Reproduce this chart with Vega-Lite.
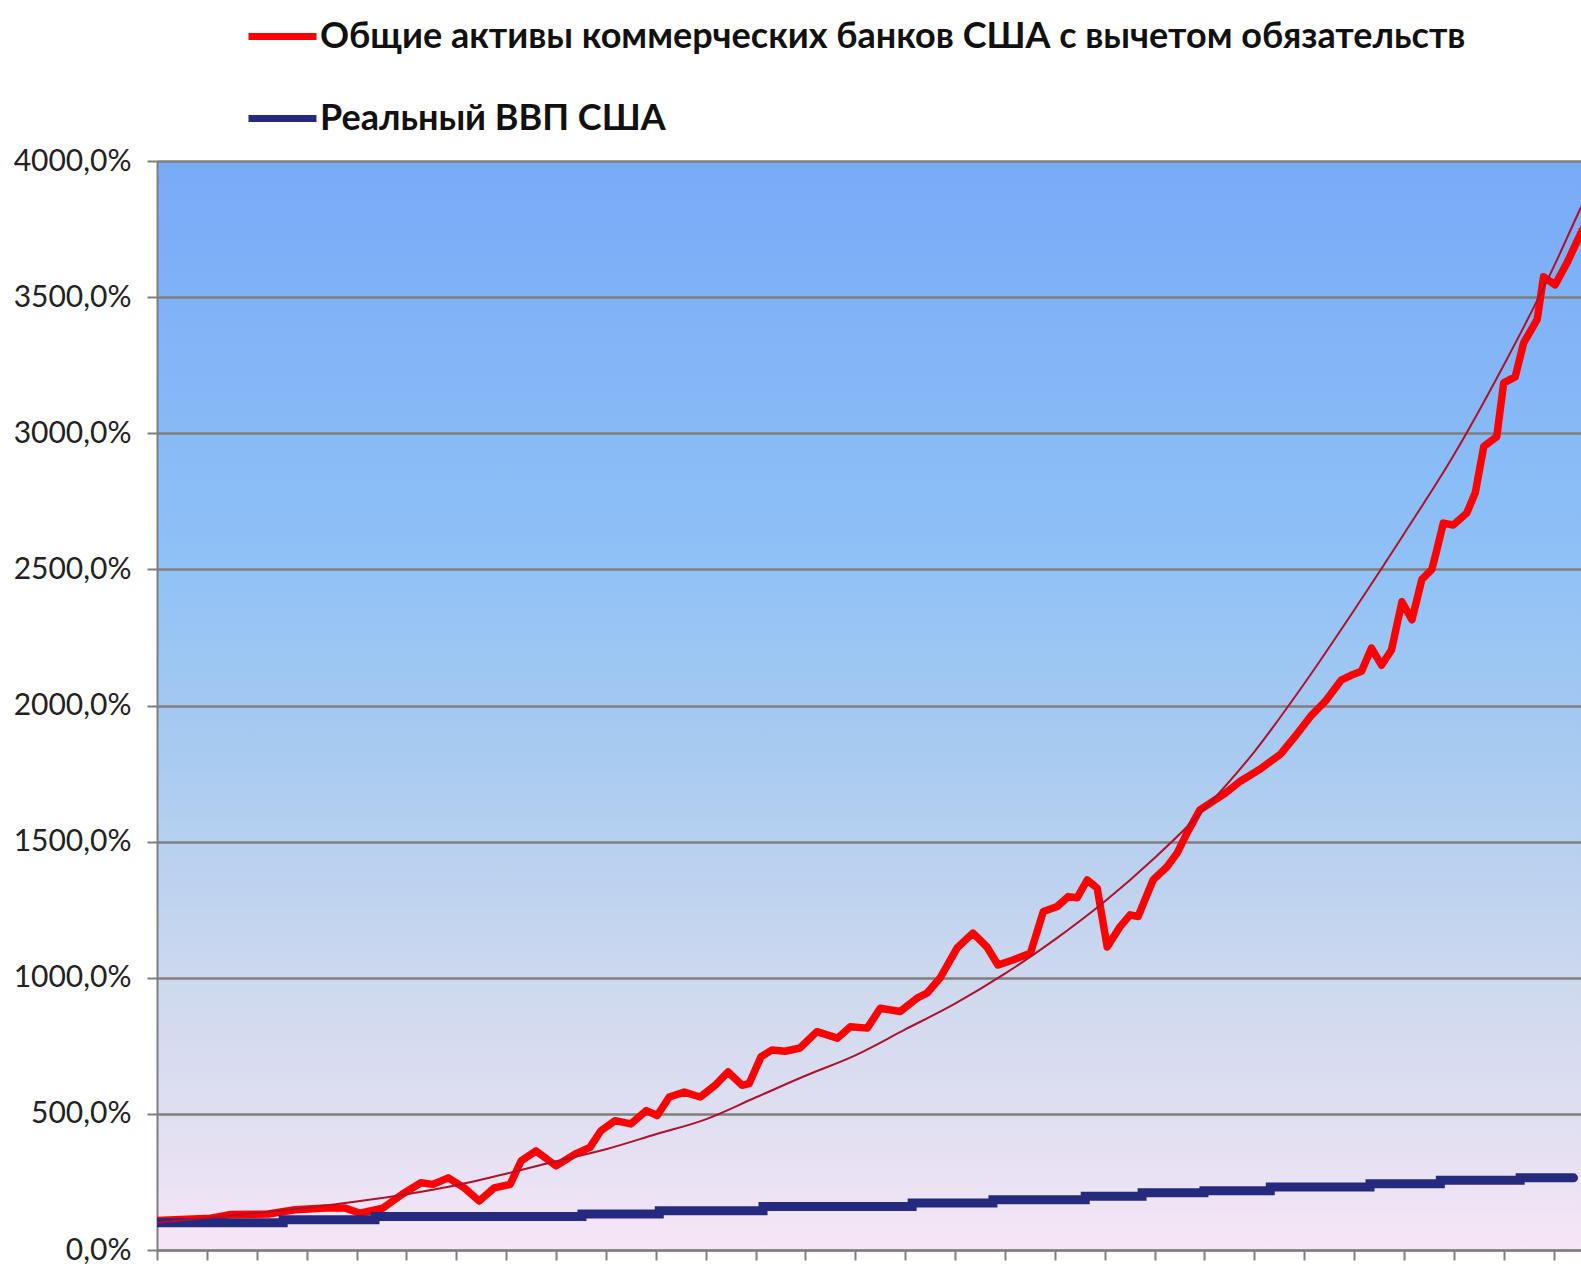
{
  "$schema": "https://vega.github.io/schema/vega-lite/v6.json",
  "width": 1424,
  "height": 1089,
  "autosize": {"type": "none"},
  "padding": {"left": 157, "top": 161, "right": 0, "bottom": 20},
  "background": "white",
  "config": {
    "view": {
      "stroke": null,
      "fill": {
        "gradient": "linear",
        "x1": 0, "y1": 0, "x2": 0, "y2": 1,
        "stops": [
          {"offset": 0, "color": "#78aaf8"},
          {"offset": 0.35, "color": "#8ec0f6"},
          {"offset": 0.55, "color": "#a9cbf0"},
          {"offset": 0.75, "color": "#cdd8ee"},
          {"offset": 0.9, "color": "#e3e0f2"},
          {"offset": 1, "color": "#f6e6f6"}
        ]
      }
    }
  },
  "datasets": {
    "red": [
      {"t": 0, "v": 108, "s": "Общие активы коммерческих банков США с вычетом обязательств"},
      {"t": 1.08, "v": 117, "s": "Общие активы коммерческих банков США с вычетом обязательств"},
      {"t": 1.46, "v": 130, "s": "Общие активы коммерческих банков США с вычетом обязательств"},
      {"t": 2.23, "v": 132, "s": "Общие активы коммерческих банков США с вычетом обязательств"},
      {"t": 2.77, "v": 148, "s": "Общие активы коммерческих банков США с вычетом обязательств"},
      {"t": 3.39, "v": 154, "s": "Общие активы коммерческих банков США с вычетом обязательств"},
      {"t": 3.77, "v": 154, "s": "Общие активы коммерческих банков США с вычетом обязательств"},
      {"t": 4.07, "v": 135, "s": "Общие активы коммерческих банков США с вычетом обязательств"},
      {"t": 4.53, "v": 154, "s": "Общие активы коммерческих банков США с вычетом обязательств"},
      {"t": 4.91, "v": 204, "s": "Общие активы коммерческих банков США с вычетом обязательств"},
      {"t": 5.29, "v": 247, "s": "Общие активы коммерческих банков США с вычетом обязательств"},
      {"t": 5.53, "v": 241, "s": "Общие активы коммерческих банков США с вычетом обязательств"},
      {"t": 5.84, "v": 265, "s": "Общие активы коммерческих банков США с вычетом обязательств"},
      {"t": 6.16, "v": 228, "s": "Общие активы коммерческих банков США с вычетом обязательств"},
      {"t": 6.46, "v": 180, "s": "Общие активы коммерческих банков США с вычетом обязательств"},
      {"t": 6.76, "v": 228, "s": "Общие активы коммерческих банков США с вычетом обязательств"},
      {"t": 7.08, "v": 241, "s": "Общие активы коммерческих банков США с вычетом обязательств"},
      {"t": 7.3, "v": 327, "s": "Общие активы коммерческих банков США с вычетом обязательств"},
      {"t": 7.6, "v": 364, "s": "Общие активы коммерческих банков США с вычетом обязательств"},
      {"t": 8.0, "v": 309, "s": "Общие активы коммерческих банков США с вычетом обязательств"},
      {"t": 8.38, "v": 352, "s": "Общие активы коммерческих банков США с вычетом обязательств"},
      {"t": 8.68, "v": 377, "s": "Общие активы коммерческих банков США с вычетом обязательств"},
      {"t": 8.9, "v": 438, "s": "Общие активы коммерческих банков США с вычетом обязательств"},
      {"t": 9.18, "v": 475, "s": "Общие активы коммерческих банков США с вычетом обязательств"},
      {"t": 9.5, "v": 463, "s": "Общие активы коммерческих банков США с вычетом обязательств"},
      {"t": 9.81, "v": 512, "s": "Общие активы коммерческих банков США с вычетом обязательств"},
      {"t": 10.03, "v": 494, "s": "Общие активы коммерческих банков США с вычетом обязательств"},
      {"t": 10.27, "v": 562, "s": "Общие активы коммерческих банков США с вычетом обязательств"},
      {"t": 10.57, "v": 580, "s": "Общие активы коммерческих банков США с вычетом обязательств"},
      {"t": 10.89, "v": 562, "s": "Общие активы коммерческих банков США с вычетом обязательств"},
      {"t": 11.19, "v": 605, "s": "Общие активы коммерческих банков США с вычетом обязательств"},
      {"t": 11.45, "v": 654, "s": "Общие активы коммерческих банков США с вычетом обязательств"},
      {"t": 11.73, "v": 605, "s": "Общие активы коммерческих банков США с вычетом обязательств"},
      {"t": 11.87, "v": 611, "s": "Общие активы коммерческих банков США с вычетом обязательств"},
      {"t": 12.11, "v": 710, "s": "Общие активы коммерческих банков США с вычетом обязательств"},
      {"t": 12.33, "v": 735, "s": "Общие активы коммерческих банков США с вычетом обязательств"},
      {"t": 12.59, "v": 730, "s": "Общие активы коммерческих банков США с вычетом обязательств"},
      {"t": 12.89, "v": 742, "s": "Общие активы коммерческих банков США с вычетом обязательств"},
      {"t": 13.23, "v": 802, "s": "Общие активы коммерческих банков США с вычетом обязательств"},
      {"t": 13.64, "v": 778, "s": "Общие активы коммерческих банков США с вычетом обязательств"},
      {"t": 13.9, "v": 820, "s": "Общие активы коммерческих банков США с вычетом обязательств"},
      {"t": 14.24, "v": 815, "s": "Общие активы коммерческих банков США с вычетом обязательств"},
      {"t": 14.5, "v": 888, "s": "Общие активы коммерческих банков США с вычетом обязательств"},
      {"t": 14.9, "v": 876, "s": "Общие активы коммерческих банков США с вычетом обязательств"},
      {"t": 15.24, "v": 925, "s": "Общие активы коммерческих банков США с вычетом обязательств"},
      {"t": 15.44, "v": 944, "s": "Общие активы коммерческих банков США с вычетом обязательств"},
      {"t": 15.7, "v": 999, "s": "Общие активы коммерческих банков США с вычетом обязательств"},
      {"t": 16.04, "v": 1109, "s": "Общие активы коммерческих банков США с вычетом обязательств"},
      {"t": 16.36, "v": 1164, "s": "Общие активы коммерческих банков США с вычетом обязательств"},
      {"t": 16.64, "v": 1113, "s": "Общие активы коммерческих банков США с вычетом обязательств"},
      {"t": 16.86, "v": 1047, "s": "Общие активы коммерческих банков США с вычетом обязательств"},
      {"t": 17.16, "v": 1065, "s": "Общие активы коммерческих банков США с вычетом обязательств"},
      {"t": 17.51, "v": 1090, "s": "Общие активы коммерческих банков США с вычетом обязательств"},
      {"t": 17.77, "v": 1243, "s": "Общие активы коммерческих банков США с вычетом обязательств"},
      {"t": 18.05, "v": 1262, "s": "Общие активы коммерческих банков США с вычетом обязательств"},
      {"t": 18.27, "v": 1298, "s": "Общие активы коммерческих банков США с вычетом обязательств"},
      {"t": 18.45, "v": 1294, "s": "Общие активы коммерческих банков США с вычетом обязательств"},
      {"t": 18.65, "v": 1359, "s": "Общие активы коммерческих банков США с вычетом обязательств"},
      {"t": 18.85, "v": 1329, "s": "Общие активы коммерческих банков США с вычетом обязательств"},
      {"t": 19.05, "v": 1113, "s": "Общие активы коммерческих банков США с вычетом обязательств"},
      {"t": 19.31, "v": 1188, "s": "Общие активы коммерческих банков США с вычетом обязательств"},
      {"t": 19.51, "v": 1231, "s": "Общие активы коммерческих банков США с вычетом обязательств"},
      {"t": 19.67, "v": 1225, "s": "Общие активы коммерческих банков США с вычетом обязательств"},
      {"t": 19.97, "v": 1359, "s": "Общие активы коммерческих банков США с вычетом обязательств"},
      {"t": 20.25, "v": 1408, "s": "Общие активы коммерческих банков США с вычетом обязательств"},
      {"t": 20.45, "v": 1457, "s": "Общие активы коммерческих банков США с вычетом обязательств"},
      {"t": 20.65, "v": 1531, "s": "Общие активы коммерческих банков США с вычетом обязательств"},
      {"t": 20.91, "v": 1617, "s": "Общие активы коммерческих банков США с вычетом обязательств"},
      {"t": 21.42, "v": 1678, "s": "Общие активы коммерческих банков США с вычетом обязательств"},
      {"t": 21.72, "v": 1722, "s": "Общие активы коммерческих банков США с вычетом обязательств"},
      {"t": 22.12, "v": 1767, "s": "Общие активы коммерческих банков США с вычетом обязательств"},
      {"t": 22.53, "v": 1822, "s": "Общие активы коммерческих банков США с вычетом обязательств"},
      {"t": 22.83, "v": 1889, "s": "Общие активы коммерческих банков США с вычетом обязательств"},
      {"t": 23.14, "v": 1963, "s": "Общие активы коммерческих банков США с вычетом обязательств"},
      {"t": 23.44, "v": 2019, "s": "Общие активы коммерческих банков США с вычетом обязательств"},
      {"t": 23.74, "v": 2093, "s": "Общие активы коммерческих банков США с вычетом обязательств"},
      {"t": 23.94, "v": 2111, "s": "Общие активы коммерческих банков США с вычетом обязательств"},
      {"t": 24.15, "v": 2126, "s": "Общие активы коммерческих банков США с вычетом обязательств"},
      {"t": 24.35, "v": 2211, "s": "Общие активы коммерческих банков США с вычетом обязательств"},
      {"t": 24.55, "v": 2148, "s": "Общие активы коммерческих банков США с вычетом обязательств"},
      {"t": 24.75, "v": 2204, "s": "Общие активы коммерческих банков США с вычетом обязательств"},
      {"t": 24.96, "v": 2381, "s": "Общие активы коммерческих банков США с вычетом обязательств"},
      {"t": 25.16, "v": 2315, "s": "Общие активы коммерческих банков США с вычетом обязательств"},
      {"t": 25.36, "v": 2463, "s": "Общие активы коммерческих банков США с вычетом обязательств"},
      {"t": 25.56, "v": 2500, "s": "Общие активы коммерческих банков США с вычетом обязательств"},
      {"t": 25.66, "v": 2572, "s": "Общие активы коммерческих банков США с вычетом обязательств"},
      {"t": 25.79, "v": 2670, "s": "Общие активы коммерческих банков США с вычетом обязательств"},
      {"t": 25.99, "v": 2663, "s": "Общие активы коммерческих банков США с вычетом обязательств"},
      {"t": 26.26, "v": 2707, "s": "Общие активы коммерческих банков США с вычетом обязательств"},
      {"t": 26.43, "v": 2781, "s": "Общие активы коммерческих банков США с вычетом обязательств"},
      {"t": 26.6, "v": 2951, "s": "Общие активы коммерческих банков США с вычетом обязательств"},
      {"t": 26.86, "v": 2987, "s": "Общие активы коммерческих банков США с вычетом обязательств"},
      {"t": 27.0, "v": 3185, "s": "Общие активы коммерческих банков США с вычетом обязательств"},
      {"t": 27.23, "v": 3207, "s": "Общие активы коммерческих банков США с вычетом обязательств"},
      {"t": 27.4, "v": 3332, "s": "Общие активы коммерческих банков США с вычетом обязательств"},
      {"t": 27.67, "v": 3417, "s": "Общие активы коммерческих банков США с вычетом обязательств"},
      {"t": 27.8, "v": 3575, "s": "Общие активы коммерческих банков США с вычетом обязательств"},
      {"t": 28.03, "v": 3545, "s": "Общие активы коммерческих банков США с вычетом обязательств"},
      {"t": 28.27, "v": 3626, "s": "Общие активы коммерческих банков США с вычетом обязательств"},
      {"t": 28.55, "v": 3736, "s": "Общие активы коммерческих банков США с вычетом обязательств"},
      {"t": 28.8, "v": 3820, "s": "Общие активы коммерческих банков США с вычетом обязательств"}
    ],
    "blue": [
      {"t": 0, "v": 100, "s": "Реальный ВВП США"},
      {"t": 2.53, "v": 111, "s": "Реальный ВВП США"},
      {"t": 4.37, "v": 123, "s": "Реальный ВВП США"},
      {"t": 8.52, "v": 132, "s": "Реальный ВВП США"},
      {"t": 10.07, "v": 144, "s": "Реальный ВВП США"},
      {"t": 12.15, "v": 160, "s": "Реальный ВВП США"},
      {"t": 15.14, "v": 173, "s": "Реальный ВВП США"},
      {"t": 16.76, "v": 185, "s": "Реальный ВВП США"},
      {"t": 18.61, "v": 197, "s": "Реальный ВВП США"},
      {"t": 19.75, "v": 210, "s": "Реальный ВВП США"},
      {"t": 20.99, "v": 218, "s": "Реальный ВВП США"},
      {"t": 22.32, "v": 231, "s": "Реальный ВВП США"},
      {"t": 24.32, "v": 243, "s": "Реальный ВВП США"},
      {"t": 25.73, "v": 256, "s": "Реальный ВВП США"},
      {"t": 27.33, "v": 265, "s": "Реальный ВВП США"},
      {"t": 28.4, "v": 265, "s": "Реальный ВВП США"}
    ],
    "trend": [
      {"t": 0, "v": 100}, {"t": 1, "v": 118}, {"t": 2, "v": 136}, {"t": 3, "v": 155},
      {"t": 4, "v": 178}, {"t": 5, "v": 205}, {"t": 6, "v": 238}, {"t": 7, "v": 280},
      {"t": 8, "v": 326}, {"t": 9, "v": 370}, {"t": 10, "v": 425}, {"t": 11, "v": 480},
      {"t": 12, "v": 560}, {"t": 13, "v": 640}, {"t": 14, "v": 715}, {"t": 15, "v": 810},
      {"t": 16, "v": 905}, {"t": 17, "v": 1015}, {"t": 18, "v": 1140}, {"t": 19, "v": 1280},
      {"t": 20, "v": 1440}, {"t": 21, "v": 1620}, {"t": 22, "v": 1830}, {"t": 23, "v": 2080},
      {"t": 24, "v": 2350}, {"t": 25, "v": 2630}, {"t": 26, "v": 2920}, {"t": 27, "v": 3250},
      {"t": 28, "v": 3610}, {"t": 28.55, "v": 3830}, {"t": 29, "v": 4000}
    ]
  },
  "encoding": {
    "x": {
      "field": "t",
      "type": "quantitative",
      "scale": {"domain": [0, 28.55], "nice": false, "zero": false},
      "axis": {
        "title": null,
        "labels": false,
        "grid": false,
        "values": [0,1,2,3,4,5,6,7,8,9,10,11,12,13,14,15,16,17,18,19,20,21,22,23,24,25,26,27,28],
        "domainColor": "#7f7f7f",
        "domainWidth": 2,
        "tickColor": "#7f7f7f",
        "tickWidth": 2,
        "tickSize": 10
      }
    },
    "y": {
      "field": "v",
      "type": "quantitative",
      "scale": {"domain": [0, 4000], "nice": false},
      "axis": {
        "title": null,
        "values": [0, 500, 1000, 1500, 2000, 2500, 3000, 3500, 4000],
        "labelExpr": "replace(format(datum.value, '.1f'), '.', ',') + '%'",
        "grid": true,
        "gridColor": "#7f7f7f",
        "gridWidth": 2.5,
        "gridOpacity": 1,
        "domainColor": "#7f7f7f",
        "domainWidth": 2,
        "tickColor": "#7f7f7f",
        "tickWidth": 2,
        "tickSize": 10,
        "labelPadding": 16,
        "labelFont": "Lato",
        "labelFontSize": 30,
        "labelColor": "#222222"
      }
    }
  },
  "layer": [
    {
      "data": {"name": "red"},
      "mark": {"type": "line", "strokeWidth": 7.5, "clip": true, "strokeJoin": "round"},
      "encoding": {
        "color": {
          "field": "s",
          "type": "nominal",
          "scale": {
            "domain": ["Общие активы коммерческих банков США с вычетом обязательств", "Реальный ВВП США"],
            "range": ["#ff0000", "#262a7e"]
          },
          "legend": {
            "title": null,
            "orient": "none",
            "legendX": 88,
            "legendY": -162,
            "direction": "vertical",
            "symbolType": "stroke",
            "symbolSize": 4624,
            "symbolStrokeWidth": 7,
            "labelFont": "Lato",
            "labelFontSize": 36,
            "labelFontWeight": "bold",
            "labelColor": "#111111",
            "labelLimit": 2000,
            "labelOffset": 0,
            "rowPadding": 26
          }
        }
      }
    },
    {
      "data": {"name": "blue"},
      "mark": {"type": "line", "strokeWidth": 9, "interpolate": "step-after", "clip": true, "strokeCap": "round"},
      "encoding": {
        "color": {"field": "s", "type": "nominal"}
      }
    },
    {
      "data": {"name": "trend"},
      "mark": {"type": "line", "strokeWidth": 2, "color": "#b0102a", "interpolate": "monotone", "clip": true},
      "encoding": {}
    }
  ]
}
